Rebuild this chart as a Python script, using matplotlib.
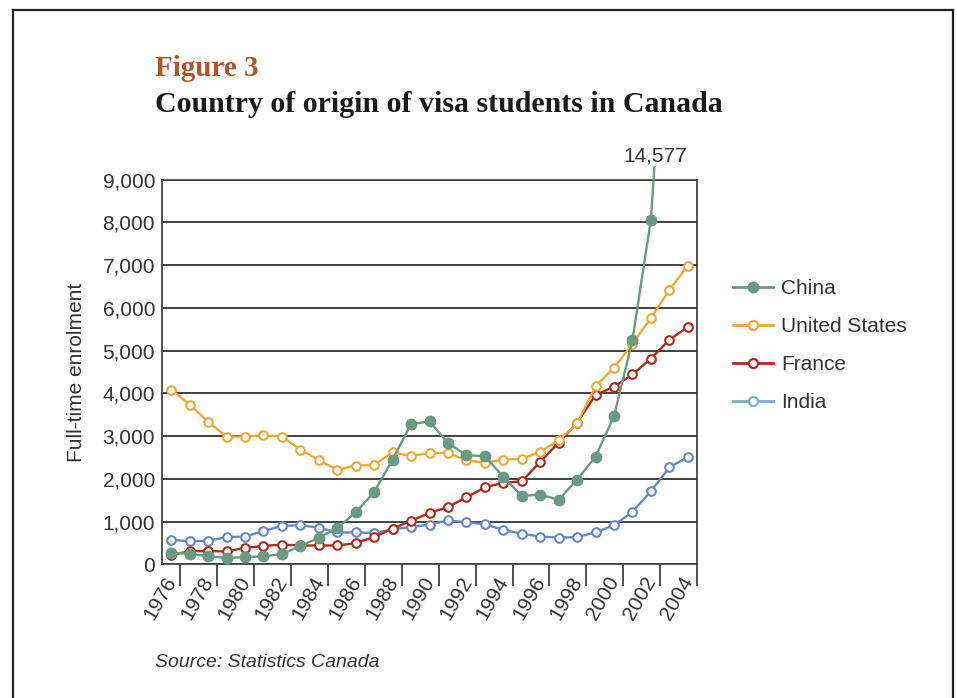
import matplotlib
matplotlib.use('Agg')
import matplotlib.pyplot as plt
from matplotlib.patches import Rectangle
from matplotlib.lines import Line2D
import numpy as np

# Data
years = list(range(1976, 2005))
china = [270, 245, 190, 150, 165, 190, 235, 430, 620, 845, 1215, 1690, 2450,
         3280, 3340, 2840, 2550, 2530, 2045, 1600, 1630, 1510, 1980, 2520,
         3460, 5240, 8060, 14577, None]
usa = [4085, 3735, 3330, 2985, 2985, 3020, 2985, 2685, 2435, 2210, 2310, 2325,
       2620, 2530, 2605, 2605, 2435, 2375, 2450, 2465, 2630, 2905, 3295, 4165,
       4595, 5155, 5760, 6415, 6985]
france = [210, 310, 310, 300, 385, 430, 460, 440, 440, 440, 495, 640, 830,
          1020, 1200, 1340, 1565, 1800, 1905, 1940, 2395, 2845, 3310, 3960,
          4150, 4440, 4810, 5250, 5550]
india = [570, 540, 550, 635, 650, 775, 900, 915, 855, 745, 745, 730, 820, 870,
         930, 1025, 980, 940, 800, 715, 650, 625, 635, 750, 910, 1230, 1705,
         2270, 2505]
series = ['China', 'United States', 'France', 'India']
colors = ['#6b9a83', '#f0a733', '#b22a1e', '#6688c4']
legend_colors = ['#6b9a83', '#f0a733', '#b22a1e', '#7aafc6']

W, H = 957, 698
fig = plt.figure(figsize=(W / 100, H / 100), dpi=100)
fig.patch.set_facecolor('white')
ax = fig.add_axes([162 / W, 1 - 564.3 / H, (697 - 162) / W, (564.3 - 179.5) / H])

sans = ['Liberation Sans', 'DejaVu Sans']
serif = ['Liberation Serif', 'DejaVu Serif']

ax.set_xlim(years[0] - 0.5, years[-1] + 0.45)
ax.set_ylim(0, 9000)

# gridlines
ax.set_yticks(range(0, 10000, 1000))
ax.yaxis.grid(True, color='#333333', lw=1.3)
ax.set_axisbelow(True)
for s in ax.spines.values():
    s.set_color('#444444')
    s.set_linewidth(1.3)

clip = Rectangle((years[0] - 0.5, 0), 30, 9310, transform=ax.transData)

data = [china, usa, france, india]
for i, vals in enumerate(data):
    x = [y for y, v in zip(years, vals) if v is not None]
    v = [v for v in vals if v is not None]
    filled = i == 0
    ln, = ax.plot(x, v, color=colors[i], lw=1.7, marker='o',
                  ms=7 if filled else 6.2,
                  mfc=colors[i] if filled else 'white',
                  mec=colors[i], mew=1.5, zorder=5 - i)
    ln.set_clip_path(clip)

ax.text(2002.25, 9330, '14,577', ha='center', va='bottom', fontsize=15,
        family=sans, color='#333333')

# x ticks: marks between every second year, labels rotated
ax.set_xticks([y + 0.5 for y in years if y % 2 == 0])
ax.set_xticklabels([])
ax.tick_params(axis='x', which='major', length=16, width=1.3, color='#444444')
ax.set_xticks([y + 0.05 for y in years if y % 2 == 0], minor=True)
ax.set_xticklabels([str(y) for y in years if y % 2 == 0], minor=True,
                   rotation=60, ha='right', va='center', rotation_mode='anchor',
                   fontsize=15, family=sans, color='#333333')
ax.tick_params(axis='x', which='minor', length=0, pad=10)

ax.set_yticklabels([f'{v:,}' for v in range(0, 10000, 1000)], fontsize=15,
                   family=sans, color='#333333')
ax.tick_params(axis='y', length=0, pad=5)

ax.set_ylabel('Full-time enrolment', fontsize=15, family=sans,
              color='#333333', labelpad=12)

handles = [Line2D([], [], color=legend_colors[i], lw=2, marker='o',
                  ms=7 if i == 0 else 6.5,
                  mfc=legend_colors[i] if i == 0 else 'white',
                  mec=legend_colors[i], mew=1.6) for i in range(4)]
fig.legend(handles, series, loc='upper left',
           bbox_to_anchor=(733 / W, 1 - 279 / H), frameon=False,
           prop={'family': sans, 'size': 15}, labelcolor='#333333',
           handlelength=1.9, handletextpad=0.4, labelspacing=0.92,
           borderpad=0, borderaxespad=0)

# titles and source
fig.text(155 / W, 1 - 76 / H, 'Figure 3', fontsize=21, fontweight='bold',
         family=serif, color='#b5532a', ha='left', va='baseline')
fig.text(155 / W, 1 - 112 / H, 'Country of origin of visa students in Canada',
         fontsize=21.5, fontweight='bold', family=serif, color='#1a1a1a',
         ha='left', va='baseline')
fig.text(155 / W, 1 - 667 / H, 'Source: Statistics Canada', fontsize=14,
         style='italic', family=sans, color='#333333', ha='left',
         va='baseline')

# page frame
fr = dict(color='#222222', lw=1.6, transform=fig.transFigure)
fig.add_artist(Line2D([13 / W, 13 / W], [0, 1 - 10 / H], **fr))
fig.add_artist(Line2D([13 / W, 953 / W], [1 - 10 / H, 1 - 10 / H], **fr))
fig.add_artist(Line2D([953 / W, 953 / W], [0, 1 - 10 / H], **fr))

fig.savefig('out.png', dpi=100, facecolor='white')
